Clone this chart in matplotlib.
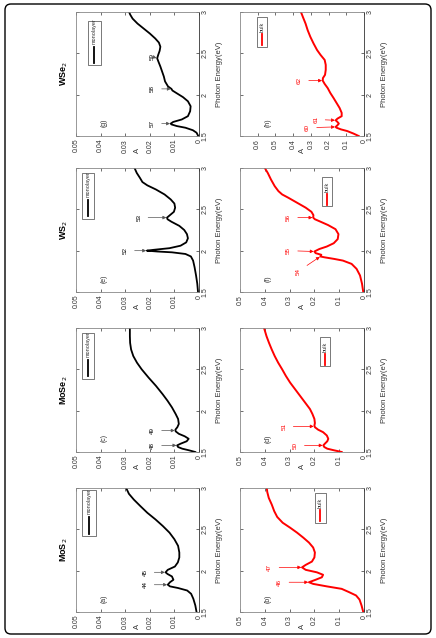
import matplotlib
matplotlib.use('Agg')
import matplotlib.pyplot as plt
from matplotlib.patches import Rectangle, FancyBboxPatch

plt.rcParams['font.family'] = ['Liberation Sans', 'DejaVu Sans']

# ---- data (E in eV, A absorbance) ----
materials = ['MoS$_2$', 'MoSe$_2$', 'WS$_2$', 'WSe$_2$']

e_mos2_mono = [1.50, 1.58, 1.66, 1.72, 1.76, 1.79, 1.81, 1.83, 1.86, 1.89, 1.93, 1.96, 1.98, 2.01,
               2.05, 2.10, 2.16, 2.22, 2.30, 2.38, 2.46, 2.54, 2.62, 2.70, 2.78, 2.86, 2.93, 3.00]
a_mos2_mono = [0.0010, 0.0015, 0.0023, 0.0032, 0.0048, 0.0085, 0.0118, 0.0127, 0.0118, 0.0104,
               0.0110, 0.0128, 0.0136, 0.0127, 0.0098, 0.0086, 0.0080, 0.0080, 0.0085, 0.0100,
               0.0120, 0.0147, 0.0177, 0.0210, 0.0238, 0.0265, 0.0285, 0.0296]

e_mos2_bulk = [1.50, 1.58, 1.65, 1.70, 1.74, 1.78, 1.81, 1.84, 1.86, 1.89, 1.92, 1.95, 1.98, 2.01,
               2.04, 2.07, 2.11, 2.16, 2.22, 2.28, 2.34, 2.40, 2.46, 2.52, 2.58, 2.65, 2.72, 2.80,
               2.88, 2.95, 3.00]
a_mos2_bulk = [0.003, 0.010, 0.018, 0.032, 0.060, 0.090, 0.150, 0.205, 0.222, 0.195, 0.170, 0.165,
               0.190, 0.235, 0.250, 0.235, 0.210, 0.200, 0.198, 0.205, 0.222, 0.245, 0.270, 0.298,
               0.328, 0.350, 0.362, 0.372, 0.384, 0.390, 0.392]

e_mose2_mono = [1.50, 1.52, 1.54, 1.56, 1.58, 1.60, 1.63, 1.66, 1.69, 1.72, 1.75, 1.77, 1.80, 1.84,
                1.90, 1.96, 2.04, 2.12, 2.20, 2.30, 2.40, 2.50, 2.58, 2.66, 2.74, 2.82, 2.90, 3.00]
a_mose2_mono = [0.0015, 0.0040, 0.0068, 0.0085, 0.0089, 0.0075, 0.0050, 0.0042, 0.0058, 0.0082,
                0.0095, 0.0096, 0.0088, 0.0082, 0.0085, 0.0095, 0.0110, 0.0128, 0.0148, 0.0175,
                0.0205, 0.0233, 0.0252, 0.0267, 0.0276, 0.0280, 0.0281, 0.0281]

e_mose2_bulk = [1.50, 1.52, 1.54, 1.56, 1.58, 1.60, 1.63, 1.66, 1.70, 1.74, 1.77, 1.80, 1.82, 1.85,
                1.90, 1.96, 2.02, 2.10, 2.18, 2.26, 2.34, 2.42, 2.50, 2.58, 2.66, 2.74, 2.82, 2.90,
                3.00]
a_mose2_bulk = [0.090, 0.120, 0.148, 0.160, 0.164, 0.158, 0.148, 0.144, 0.150, 0.165, 0.185, 0.198,
                0.200, 0.198, 0.200, 0.208, 0.218, 0.238, 0.258, 0.278, 0.298, 0.315, 0.330, 0.346,
                0.360, 0.372, 0.383, 0.393, 0.403]

e_ws2_mono = [1.50, 1.60, 1.70, 1.80, 1.88, 1.93, 1.96, 1.98, 1.99, 2.00, 2.01, 2.03, 2.06, 2.10,
              2.15, 2.20, 2.25, 2.30, 2.35, 2.38, 2.40, 2.43, 2.47, 2.52, 2.57, 2.62, 2.68, 2.74,
              2.79, 2.83, 2.88, 2.94, 3.00]
a_ws2_mono = [0.0004, 0.0007, 0.0012, 0.0018, 0.0024, 0.0033, 0.0055, 0.0110, 0.0170, 0.0212,
              0.0185, 0.0120, 0.0075, 0.0052, 0.0045, 0.0049, 0.0060, 0.0080, 0.0112, 0.0128,
              0.0130, 0.0118, 0.0102, 0.0097, 0.0100, 0.0115, 0.0140, 0.0175, 0.0210, 0.0230,
              0.0240, 0.0253, 0.0262]

e_ws2_bulk = [1.50, 1.60, 1.70, 1.78, 1.84, 1.88, 1.90, 1.92, 1.93, 1.95, 1.97, 1.99, 2.02, 2.05,
              2.09, 2.14, 2.20, 2.26, 2.31, 2.35, 2.38, 2.40, 2.43, 2.47, 2.52, 2.58, 2.64, 2.68,
              2.72, 2.78, 2.86, 2.94, 3.00]
a_ws2_bulk = [0.003, 0.008, 0.016, 0.030, 0.050, 0.085, 0.120, 0.160, 0.176, 0.172, 0.195, 0.200,
              0.180, 0.150, 0.122, 0.106, 0.103, 0.115, 0.145, 0.175, 0.198, 0.205, 0.204, 0.212,
              0.235, 0.270, 0.305, 0.330, 0.345, 0.360, 0.375, 0.388, 0.400]

e_wse2_mono = [1.50, 1.54, 1.57, 1.60, 1.62, 1.64, 1.65, 1.67, 1.70, 1.74, 1.80, 1.86, 1.92, 1.97,
               2.02, 2.05, 2.07, 2.10, 2.16, 2.22, 2.28, 2.34, 2.40, 2.44, 2.48, 2.53, 2.58, 2.63,
               2.68, 2.74, 2.80, 2.86, 2.92, 2.97, 3.00]
a_wse2_mono = [0.0003, 0.0010, 0.0025, 0.0055, 0.0090, 0.0112, 0.0115, 0.0105, 0.0070, 0.0045,
               0.0036, 0.0034, 0.0045, 0.0065, 0.0092, 0.0108, 0.0112, 0.0126, 0.0138, 0.0143,
               0.0150, 0.0157, 0.0165, 0.0170, 0.0166, 0.0160, 0.0157, 0.0163, 0.0178, 0.0200,
               0.0225, 0.0250, 0.0270, 0.0280, 0.0284]

e_wse2_bulk = [1.50, 1.53, 1.56, 1.58, 1.60, 1.61, 1.63, 1.65, 1.67, 1.69, 1.71, 1.74, 1.78, 1.84,
               1.90, 1.96, 2.02, 2.08, 2.13, 2.17, 2.20, 2.24, 2.30, 2.36, 2.42, 2.48, 2.54, 2.62,
               2.70, 2.78, 2.86, 2.94, 3.00]
a_wse2_bulk = [0.030, 0.060, 0.095, 0.130, 0.155, 0.160, 0.150, 0.142, 0.150, 0.160, 0.150, 0.126,
               0.126, 0.138, 0.155, 0.172, 0.190, 0.205, 0.222, 0.233, 0.232, 0.220, 0.216, 0.216,
               0.222, 0.245, 0.265, 0.285, 0.303, 0.318, 0.330, 0.345, 0.356]

# peak markers: label, energy, absorbance at the arrow tip
pk_mos2_mono = (['44', '45'], [1.83, 1.98], [0.0127, 0.0136])
pk_mos2_bulk = (['46', '47'], [1.86, 2.04], [0.222, 0.250])
pk_mose2_mono = (['48', '49'], [1.58, 1.76], [0.0089, 0.0096])
pk_mose2_bulk = (['50', '51'], [1.58, 1.81], [0.164, 0.200])
pk_ws2_mono = (['52', '53'], [2.00, 2.40], [0.0212, 0.0130])
pk_ws2_bulk = (['54', '55', '56'], [1.93, 1.99, 2.40], [0.176, 0.200, 0.205])
pk_wse2_mono = (['57', '58', '59'], [1.65, 2.07, 2.44], [0.0115, 0.0112, 0.0170])
pk_wse2_bulk = (['60', '61', '62'], [1.61, 1.69, 2.17], [0.160, 0.160, 0.233])

e_ticks = [1.5, 2, 2.5, 3]
e_ticklabels = ['1.5', '2', '2.5', '3']
mono_ticks = [0, 0.01, 0.02, 0.03, 0.04, 0.05]
mono_ticklabels = ['0', '0.01', '0.02', '0.03', '0.04', '0.05']
bulk_ticks = [0, 0.1, 0.2, 0.3, 0.4, 0.5]
bulk_ticklabels = ['0', '0.1', '0.2', '0.3', '0.4', '0.5']
wse2_bulk_ticks = [0, 0.1, 0.2, 0.3, 0.4, 0.5, 0.6]
wse2_bulk_ticklabels = ['0', '0.1', '0.2', '0.3', '0.4', '0.5', '0.6']

# ---- layout (pixels of the 436x638 page, figure is shown rotated) ----
W, H = 436, 638
col_x = [76, 240]
col_w = [123, 124]
row_top = {'MoS$_2$': 488, 'MoSe$_2$': 328, 'WS$_2$': 168, 'WSe$_2$': 12}
panel_h = 124

panels = [
    # material, column, letter, e, a, peaks, xmax, ticks, labels, color, legend, legend box, text positions
    ('MoS$_2$', 0, '(a)', e_mos2_mono, a_mos2_mono, pk_mos2_mono, 0.05, mono_ticks, mono_ticklabels,
     'black', 'monolayer', (0.05, 0.61, 0.11, 0.37), [(0.022, 1.83), (0.022, 1.98)]),
    ('MoS$_2$', 1, '(b)', e_mos2_bulk, a_mos2_bulk, pk_mos2_bulk, 0.5, bulk_ticks, bulk_ticklabels,
     'red', 'bulk', (0.605, 0.72, 0.085, 0.24), [(0.34, 1.86), (0.38, 2.04)]),
    ('MoSe$_2$', 0, '(c)', e_mose2_mono, a_mose2_mono, pk_mose2_mono, 0.05, mono_ticks, mono_ticklabels,
     'black', 'monolayer', (0.05, 0.59, 0.10, 0.37), [(0.019, 1.58), (0.019, 1.76)]),
    ('MoSe$_2$', 1, '(d)', e_mose2_bulk, a_mose2_bulk, pk_mose2_bulk, 0.5, bulk_ticks, bulk_ticklabels,
     'red', 'bulk', (0.645, 0.69, 0.08, 0.24), [(0.278, 1.58), (0.323, 1.81)]),
    ('WS$_2$', 0, '(e)', e_ws2_mono, a_ws2_mono, pk_ws2_mono, 0.05, mono_ticks, mono_ticklabels,
     'black', 'monolayer', (0.05, 0.59, 0.10, 0.37), [(0.030, 2.00), (0.0245, 2.40)]),
    ('WS$_2$', 1, '(f)', e_ws2_bulk, a_ws2_bulk, pk_ws2_bulk, 0.5, bulk_ticks, bulk_ticklabels,
     'red', 'bulk', (0.66, 0.69, 0.08, 0.24), [(0.265, 1.75), (0.305, 2.00), (0.305, 2.40)]),
    ('WSe$_2$', 0, '(g)', e_wse2_mono, a_wse2_mono, pk_wse2_mono, 0.05, mono_ticks, mono_ticklabels,
     'black', 'monolayer', (0.10, 0.57, 0.10, 0.36), [(0.019, 1.65), (0.019, 2.07), (0.019, 2.46)]),
    ('WSe$_2$', 1, '(h)', e_wse2_bulk, a_wse2_bulk, pk_wse2_bulk, 0.7, wse2_bulk_ticks, wse2_bulk_ticklabels,
     'red', 'bulk', (0.14, 0.72, 0.075, 0.24), [(0.32, 1.60), (0.272, 1.70), (0.365, 2.17)]),
]

fig = plt.figure(figsize=(W / 100, H / 100), dpi=100)

# outer rounded frame
frame = FancyBboxPatch((5 / 100, 4 / 100), 426 / 100, 630 / 100,
                       boxstyle='round,pad=0,rounding_size=0.06',
                       transform=fig.dpi_scale_trans, fill=False, ec='black', lw=1.0)
fig.patches.append(frame)

for mat, col, letter, e, a, pk, xmax, ticks, tlabels, c, leg, lbox, tpos in panels:
    top = row_top[mat]
    ax = fig.add_axes([col_x[col] / W, 1 - (top + panel_h) / H, col_w[col] / W, panel_h / H])
    ax.plot(a, e, color=c, lw=1.3 if c == 'black' else 1.4)
    ax.set_xlim(xmax, 0)
    ax.set_ylim(1.5, 3)

    ax.set_xticks(ticks)
    ax.set_xticklabels(tlabels, rotation=90, fontsize=5)
    ax.set_yticks(e_ticks)
    ax.set_yticklabels(e_ticklabels, rotation=90, fontsize=5, va='center')
    ax.yaxis.tick_right()
    ax.tick_params(direction='in', length=2, width=0.5, pad=2,
                   top=True, bottom=True, left=True, right=True, colors='#333333')
    for s in ax.spines.values():
        s.set_color('#888888')
        s.set_linewidth(0.6)
    ax.spines['right'].set_color('#333333')

    ax.text(1 + 20 / col_w[col], 0.5, 'Photon Energy(eV)', transform=ax.transAxes,
            rotation=90, fontsize=5.5, ha='center', va='center', color='#333333')
    ax.text(0.5, -0.115, 'A', transform=ax.transAxes, rotation=90,
            fontsize=5.5, ha='center', va='center', color='#333333')
    ax.text(0.23, 0.11, letter, transform=ax.transAxes, rotation=90,
            fontsize=5, ha='center', va='center', color='#333333')

    if col == 0:
        ax.text(-12 / col_w[col], 0.5, mat, transform=ax.transAxes, rotation=90,
                fontsize=6.5, fontweight='bold', ha='center', va='center')

    # peak arrows
    labels, pe, pa = pk
    acol = '#555555' if c == 'black' else 'red'
    for lbl, ee, aa, (tx, ty) in zip(labels, pe, pa, tpos):
        ax.annotate(lbl, xy=(aa, ee), xytext=(tx, ty), rotation=90, fontsize=4.5,
                    color=c, ha='center', va='center',
                    arrowprops=dict(arrowstyle='-|>', color=acol, lw=0.5,
                                    shrinkA=3, shrinkB=0.5, mutation_scale=5))

    # legend drawn by hand so it can sit rotated like the rest
    x0, y0, w, h = lbox
    ax.add_patch(Rectangle((x0, y0), w, h, transform=ax.transAxes, fc='white',
                           ec='#444444', lw=0.5, zorder=5))
    xc = x0 + w / 2
    ax.plot([xc, xc], [y0 + 0.06 * h, y0 + 0.42 * h], transform=ax.transAxes,
            color=c, lw=1.3, zorder=6, clip_on=False)
    ax.text(xc, y0 + 0.48 * h, leg, transform=ax.transAxes, rotation=90,
            fontsize=4, ha='center', va='bottom', zorder=6, color='#333333')

fig.savefig('out.png', dpi=100)
